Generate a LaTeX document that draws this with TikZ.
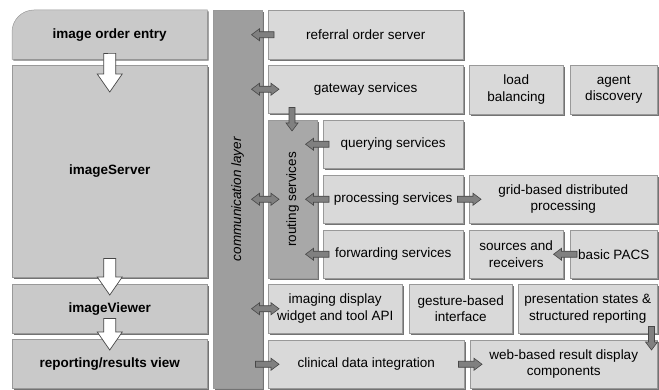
\documentclass[tikz,border=0pt]{standalone}
\usepackage{fontspec}
\setmainfont{Liberation Sans}
\usetikzlibrary{calc,shadows,backgrounds}

\definecolor{boxgray}{gray}{0.85}
\definecolor{leftgray}{gray}{0.79}
\definecolor{commgray}{gray}{0.62}
\definecolor{routegray}{gray}{0.66}
\definecolor{arrowgray}{gray}{0.5}
\definecolor{arrowedge}{gray}{0.28}
\definecolor{edgegray}{gray}{0.6}

\tikzset{
	wh/.style 2 args={minimum width=#1pt, minimum height=#2pt},
	boxshadow/.style={drop shadow={shadow xshift=1.3pt, shadow yshift=-1.3pt, fill=black!55, opacity=1}},
	box/.style={draw=edgegray, fill=boxgray, line width=0.5pt, anchor=north west, align=center,
		inner sep=1pt, font=\fontsize{13.5}{16.5}\selectfont, boxshadow},
	leftbox/.style={box, fill=leftgray, font=\fontsize{13.5}{16.5}\selectfont\bfseries},
	lefttext/.style={anchor=north west, align=center, inner sep=1pt, font=\fontsize{13.5}{16.5}\selectfont\bfseries},
	lefthull/.style={draw=edgegray, fill=leftgray, line width=0.5pt, boxshadow},
	arrowpoly/.style n args={3}{to path={coordinate (fs) (\tikztotarget) coordinate (ft)
		($(ft)!#3!(fs)$) coordinate (fb)
		($(fs)!#1!90:(ft)$) -- ($(fb)!#1!90:(ft)$) -- ($(fb)!#2!90:(ft)$) -- (ft)
		-- ($(fb)!#2!-90:(ft)$) -- ($(fb)!#1!-90:(ft)$) -- ($(fs)!#1!-90:(ft)$) -- cycle}},
	bothpoly/.style n args={3}{to path={coordinate (fs) (\tikztotarget) coordinate (ft)
		($(ft)!#3!(fs)$) coordinate (fb) ($(fs)!#3!(ft)$) coordinate (fa)
		(fs) -- ($(fa)!#2!90:(ft)$) -- ($(fa)!#1!90:(ft)$) -- ($(fb)!#1!90:(ft)$) -- ($(fb)!#2!90:(ft)$) -- (ft)
		-- ($(fb)!#2!-90:(ft)$) -- ($(fb)!#1!-90:(ft)$) -- ($(fa)!#1!-90:(ft)$) -- ($(fa)!#2!-90:(ft)$) -- cycle}},
	fat/.style={draw=arrowedge, fill=arrowgray, line width=0.6pt, arrowpoly={3pt}{6pt}{8pt}},
	fatboth/.style={draw=arrowedge, fill=arrowgray, line width=0.6pt, bothpoly={3pt}{6pt}{8pt}},
	hollow/.style={draw=arrowedge, fill=white, line width=0.7pt, arrowpoly={6pt}{12.5pt}{18pt}}
}

\begin{document}
\begin{tikzpicture}[x=1pt, y=-1pt]
	\useasboundingbox (0,0) rectangle (659,390);
	% left column
	\node[lefttext, wh={195}{49}] (order) at (12,10) {image order entry};
	\begin{scope}[on background layer]
		\path[lefthull] (order.south west) -- ($(order.north west)+(0,22)$)
			arc[start angle=180, end angle=90, radius=22pt] -- (order.north east) -- (order.south east) -- cycle;
	\end{scope}
	\node[leftbox, wh={195}{212}] (server) at (12,65) {imageServer};
	\node[leftbox, wh={195}{49}] (viewer) at (12,284) {imageViewer};
	\node[leftbox, wh={195}{49}] (reporting) at (12,339) {reporting/results view};
	% communication layer
	\node[box, fill=commgray, wh={49}{378}] (comm) at (213,10) {};
	\node[rotate=90, font=\fontsize{13.5}{16.5}\selectfont\itshape] (commtext) at (comm.center) {communication layer};
	% services
	\node[box, wh={195}{49}] (referral) at (268,10) {referral order server};
	\node[box, wh={195}{48}] (gateway) at (268,65) {gateway services};
	\node[box, wh={94}{49}] (load) at (469,65) {load\\balancing};
	\node[box, wh={87}{49}] (agent) at (570,65) {agent\\discovery};
	\node[box, fill=routegray, wh={49}{158}] (routing) at (268,120) {};
	\node[rotate=90, font=\fontsize{13.5}{16.5}\selectfont] (routingtext) at (routing.center) {routing services};
	\node[box, wh={140}{48}] (querying) at (323,120) {querying services};
	\node[box, wh={140}{48}] (processing) at (323,175) {processing services};
	\node[box, wh={188}{48}] (grid) at (469,175) {grid-based distributed\\processing};
	\node[box, wh={140}{48}] (forwarding) at (323,230) {forwarding services};
	\node[box, wh={94}{48}] (sources) at (469,230) {sources and\\receivers};
	\node[box, wh={87}{48}] (pacs) at (570,230) {basic PACS};
	% viewer row
	\node[box, wh={134}{49}] (imaging) at (268,284) {imaging display\\widget and tool API};
	\node[box, wh={103}{49}] (gesture) at (409,284) {gesture-based\\interface};
	\node[box, wh={139}{49}] (presentation) at (518,284) {presentation states \&\\structured reporting};
	% reporting row
	\node[box, wh={196}{48}] (clinical) at (268,340) {clinical data integration};
	\node[box, wh={187}{48}] (web) at (470,340) {web-based result display\\components};
	% white arrows
	\draw[hollow] ($(order.south)+(0,-6)$) to ($(server.north)+(0,27)$);
	\draw[hollow] ($(server.south)+(0,-19)$) to ($(viewer.north)+(0,11)$);
	\draw[hollow] ($(viewer.south)+(0,-15)$) to ($(reporting.north)+(0,11)$);
	% gray arrows
	\draw[fat] ($(referral.west)+(6,0)$) to ($(referral.west -| comm.east)+(-11,0)$);
	\draw[fatboth] ($(gateway.west -| comm.east)+(-11,0)$) to ($(gateway.west)+(11,0)$);
	\draw[fat] ($(gateway.south west)+(24,-6)$) to ($(routing.north west)+(24,11)$);
	\draw[fatboth] ($(comm.east)+(-11,0)$) to ($(routing.west)+(11,0)$);
	\draw[fat] ($(querying.west)+(6,0)$) to ($(querying.west -| routing.east)+(-12,0)$);
	\draw[fat] ($(processing.west)+(6,0)$) to ($(processing.west -| routing.east)+(-12,0)$);
	\draw[fat] ($(processing.east)+(-6,0)$) to ($(grid.west)+(12,0)$);
	\draw[fat] ($(forwarding.west)+(6,0)$) to ($(forwarding.west -| routing.east)+(-12,0)$);
	\draw[fat] ($(pacs.west)+(7,0)$) to ($(sources.east)+(-10,0)$);
	\draw[fatboth] ($(imaging.west -| comm.east)+(-11,0)$) to ($(imaging.west)+(11,0)$);
	\draw[fat] ($(clinical.west -| comm.east)+(-7,0)$) to ($(clinical.west)+(11,0)$);
	\draw[fat] ($(clinical.east)+(-6,0)$) to ($(web.west)+(12,0)$);
	\draw[fat] ($(presentation.south east)+(-6,-7)$) to ($(web.north east)+(-6,10)$);
\end{tikzpicture}
\end{document}
